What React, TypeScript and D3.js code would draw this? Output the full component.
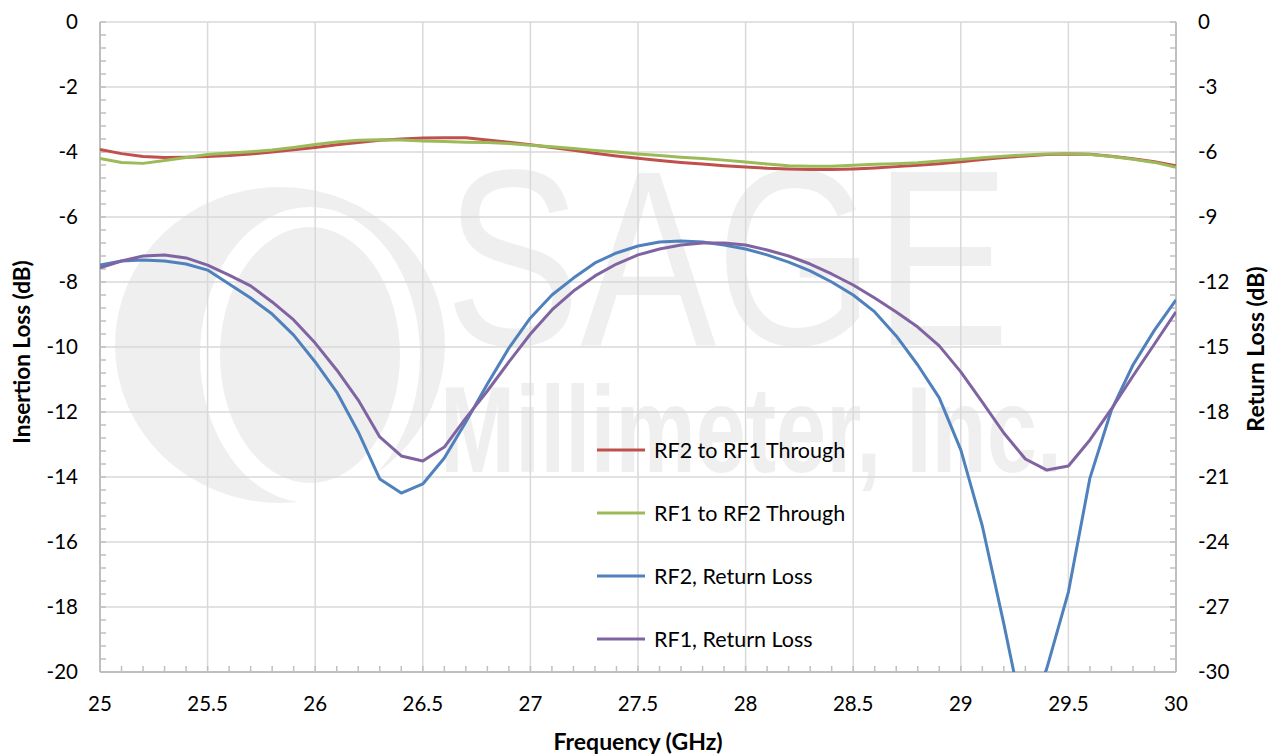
import React from "react";
import * as d3 from "d3";

// frequency points, GHz
const freqs = [
  25.0, 25.1, 25.2, 25.3, 25.4, 25.5, 25.6, 25.7, 25.8, 25.9,
  26.0, 26.1, 26.2, 26.3, 26.4, 26.5, 26.6, 26.7, 26.8, 26.9,
  27.0, 27.1, 27.2, 27.3, 27.4, 27.5, 27.6, 27.7, 27.8, 27.9,
  28.0, 28.1, 28.2, 28.3, 28.4, 28.5, 28.6, 28.7, 28.8, 28.9,
  29.0, 29.1, 29.2, 29.3, 29.4, 29.5, 29.6, 29.7, 29.8, 29.9, 30.0,
];

// insertion loss (left axis)
const rf2ToRf1 = [
  -3.92, -4.05, -4.14, -4.17, -4.16, -4.14, -4.11, -4.06, -4.0, -3.93,
  -3.86, -3.78, -3.71, -3.64, -3.6, -3.57, -3.56, -3.56, -3.63, -3.7,
  -3.78, -3.86, -3.95, -4.04, -4.12, -4.19, -4.26, -4.32, -4.37, -4.42,
  -4.46, -4.5, -4.52, -4.54, -4.54, -4.52, -4.49, -4.45, -4.41, -4.36,
  -4.3, -4.23, -4.17, -4.12, -4.08, -4.06, -4.07, -4.13, -4.21, -4.3, -4.42,
];
const rf1ToRf2 = [
  -4.2, -4.32, -4.35, -4.26, -4.17, -4.08, -4.03, -3.99, -3.94, -3.86,
  -3.77, -3.69, -3.64, -3.62, -3.63, -3.66, -3.68, -3.7, -3.71, -3.74,
  -3.79, -3.84, -3.89, -3.95, -4.0, -4.06, -4.11, -4.16, -4.2, -4.25,
  -4.31, -4.37, -4.42, -4.44, -4.44, -4.41, -4.38, -4.36, -4.33, -4.28,
  -4.23, -4.18, -4.13, -4.09, -4.06, -4.05, -4.08, -4.14, -4.22, -4.32, -4.47,
];

// return loss (right axis)
const rf2Return = [
  -11.22, -11.03, -10.98, -11.03, -11.17, -11.45, -12.09, -12.74, -13.48, -14.45,
  -15.69, -17.08, -18.92, -21.09, -21.74, -21.32, -20.12, -18.46, -16.71, -15.05,
  -13.66, -12.6, -11.82, -11.12, -10.66, -10.34, -10.15, -10.11, -10.15, -10.29,
  -10.48, -10.75, -11.08, -11.49, -12.0, -12.6, -13.38, -14.49, -15.83, -17.35,
  -19.75, -23.26, -27.78, -32.58, -29.82, -26.31, -21.05, -17.91, -15.83, -14.22, -12.83,
];
const rf1Return = [
  -11.35, -11.03, -10.8, -10.75, -10.89, -11.22, -11.68, -12.18, -12.92, -13.75,
  -14.82, -16.06, -17.45, -19.15, -20.03, -20.26, -19.62, -18.28, -17.03, -15.69,
  -14.4, -13.29, -12.42, -11.72, -11.17, -10.75, -10.48, -10.29, -10.2, -10.2,
  -10.29, -10.52, -10.8, -11.17, -11.63, -12.14, -12.74, -13.38, -14.08, -14.95,
  -16.15, -17.54, -18.97, -20.17, -20.68, -20.49, -19.29, -17.86, -16.34, -14.86, -13.38,
];

const xTicks = [25, 25.5, 26, 26.5, 27, 27.5, 28, 28.5, 29, 29.5, 30];
const leftTicks = [0, -2, -4, -6, -8, -10, -12, -14, -16, -18, -20];
const rightTicks = [0, -3, -6, -9, -12, -15, -18, -21, -24, -27, -30];

const seriesNames = [
  "RF2 to RF1 Through",
  "RF1 to RF2 Through",
  "RF2, Return Loss",
  "RF1, Return Loss",
];
const seriesColors = ["#c0504d", "#9bbb59", "#4f81bd", "#8064a2"];

const W = 1278;
const H = 755;
const left = 100;
const right = 1176;
const top = 22;
const bottom = 672;
const font = "Lato, 'Open Sans', sans-serif";

export default function App() {
  const x = d3.scaleLinear().domain([25, 30]).range([left, right]);
  const yL = d3.scaleLinear().domain([-20, 0]).range([bottom, top]);
  const yR = d3.scaleLinear().domain([-30, 0]).range([bottom, top]);

  const lineL = d3
    .line<number>()
    .x((_, i) => x(freqs[i]))
    .y((d) => yL(d));
  const lineR = d3
    .line<number>()
    .x((_, i) => x(freqs[i]))
    .y((d) => yR(d));

  const paths = [
    lineL(rf2ToRf1),
    lineL(rf1ToRf2),
    lineR(rf2Return),
    lineR(rf1Return),
  ];

  const minorX = d3.range(25, 30.0001, 0.1);
  const minorL = d3.range(0, -20.0001, -0.4);
  const minorR = d3.range(0, -30.0001, -0.6);

  const grid = "#d9d9d9";
  const axis = "#bfbfbf";
  const wm = "#efefef";

  return (
    <svg
      width={W}
      height={H}
      style={{ position: "absolute", left: 0, top: 0, background: "#fff" }}
      fontFamily={font}
    >
      <defs>
        <clipPath id="plot">
          <rect x={left} y={top} width={right - left} height={bottom - top} />
        </clipPath>
      </defs>

      {/* watermark (logo + company name) */}
      <g fontFamily="'Liberation Sans', Arial, sans-serif" fill={wm}>
        <ellipse cx={280} cy={345} rx={165} ry={158} />
        <ellipse cx={310} cy={355} rx={100} ry={138} fill="none" stroke="#fff" strokeWidth={20} />
        <text transform="translate(445,345) scale(0.813,1)" fontSize={250}>SAGE</text>
        <text transform="translate(440,472) scale(0.74,1)" fontSize={122} fontWeight="bold">
          Millimeter, Inc.
        </text>
      </g>

      {/* grid */}
      {xTicks.slice(1, -1).map((t) => (
        <line key={`gx${t}`} x1={x(t)} x2={x(t)} y1={top} y2={bottom} stroke={grid} strokeWidth={1.5} />
      ))}
      {leftTicks.slice(0, -1).map((t) => (
        <line key={`gy${t}`} x1={left} x2={right} y1={yL(t)} y2={yL(t)} stroke={grid} strokeWidth={1.5} />
      ))}

      {/* axes */}
      <line x1={left} x2={left} y1={top} y2={bottom} stroke={axis} strokeWidth={2} />
      <line x1={right} x2={right} y1={top} y2={bottom} stroke={axis} strokeWidth={2} />
      <line x1={left} x2={right} y1={bottom} y2={bottom} stroke={axis} strokeWidth={2} />
      {minorX.map((t, i) => (
        <line key={`mx${i}`} x1={x(t)} x2={x(t)} y1={bottom} y2={bottom - 6} stroke={axis} strokeWidth={1.5} />
      ))}
      {minorL.map((t, i) => (
        <line key={`ml${i}`} x1={left} x2={left + 6} y1={yL(t)} y2={yL(t)} stroke={axis} strokeWidth={1.5} />
      ))}
      {minorR.map((t, i) => (
        <line key={`mr${i}`} x1={right} x2={right - 6} y1={yR(t)} y2={yR(t)} stroke={axis} strokeWidth={1.5} />
      ))}

      {/* tick labels */}
      {leftTicks.map((t) => (
        <text key={`ll${t}`} x={78} y={yL(t)} dy="0.35em" textAnchor="end" fontSize={20.5}>{t}</text>
      ))}
      {rightTicks.map((t) => (
        <text key={`rl${t}`} x={1198} y={yR(t)} dy="0.35em" textAnchor="start" fontSize={20.5}>{t}</text>
      ))}
      {xTicks.map((t) => (
        <text key={`xl${t}`} x={x(t)} y={711} textAnchor="middle" fontSize={20.5}>{t}</text>
      ))}

      {/* axis titles */}
      <text x={638} y={750} textAnchor="middle" fontSize={23} fontWeight="bold">
        Frequency (GHz)
      </text>
      <text transform="translate(30,352) rotate(-90)" textAnchor="middle" fontSize={22.5} fontWeight="bold">
        Insertion Loss (dB)
      </text>
      <text transform="translate(1264,349) rotate(-90)" textAnchor="middle" fontSize={23} fontWeight="bold">
        Return Loss (dB)
      </text>

      {/* legend */}
      {seriesNames.map((name, i) => {
        const ly = 450 + i * 63;
        return (
          <g key={name}>
            <line x1={597} x2={645} y1={ly} y2={ly} stroke={seriesColors[i]} strokeWidth={3} />
            <text x={654} y={ly} dy="0.35em" fontSize={21.5}>{name}</text>
          </g>
        );
      })}

      {/* series */}
      <g clipPath="url(#plot)">
        {paths.map((p, i) => (
          <path key={i} d={p ?? ""} fill="none" stroke={seriesColors[i]} strokeWidth={3} strokeLinejoin="round" />
        ))}
      </g>
    </svg>
  );
}
